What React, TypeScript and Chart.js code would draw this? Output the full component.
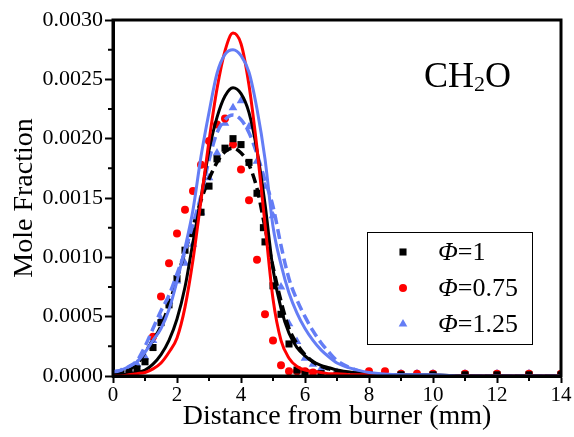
import React, { useEffect, useRef } from 'react';
import { Chart, registerables } from 'chart.js';
Chart.register(...registerables);

// ---- Experimental data (symbols) ----
const phi1X = [0, 0.25, 0.5, 0.75, 1.0, 1.25, 1.5, 1.75, 2.0, 2.25, 2.5, 2.75, 3.0, 3.25, 3.5, 3.75, 4.0, 4.25, 4.5, 4.7, 4.75, 5.0, 5.25, 5.5, 5.75, 6.0, 6.5, 7, 8, 9, 10, 11, 12, 13, 14];
const phi1Y = [0.00001, 0.00002, 0.00003, 0.00006, 0.00012, 0.00024, 0.00045, 0.0006, 0.00082, 0.00106, 0.0012, 0.00138, 0.0016, 0.00183, 0.00192, 0.002, 0.00195, 0.0018, 0.00154, 0.00125, 0.00113, 0.00076, 0.00052, 0.00027, 0.00005, 0.00003, 0.00002, 0.00001, 0.00001, 0.00001, 0.00001, 0.00001, 0.00001, 0.00001, 0.00001];

const phi075X = [1.25, 1.5, 1.75, 2.0, 2.25, 2.5, 2.75, 3.0, 3.25, 3.5, 3.75, 4.0, 4.25, 4.5, 4.75, 5.0, 5.25, 5.5, 5.75, 6.0, 6.25, 8, 8.5, 9, 9.5, 10, 11, 12, 13, 14];
const phi075Y = [0.00033, 0.00067, 0.00095, 0.0012, 0.0014, 0.00156, 0.00178, 0.00198, 0.00212, 0.00217, 0.00195, 0.00174, 0.00148, 0.00098, 0.00052, 0.0003, 0.00009, 0.00004, 0.00004, 0.00004, 0.00003, 0.00004, 0.00004, 0.00002, 0.00002, 0.00002, 0.00002, 0.00002, 0.00002, 0.00002];

const phi125X = [0, 0.25, 0.5, 0.75, 1.0, 1.25, 1.5, 1.75, 2.0, 2.25, 2.5, 2.75, 3.0, 3.25, 3.5, 3.75, 4.0, 4.25, 4.5, 4.75, 5.0, 5.25, 5.5, 5.75, 6.0, 6.25, 6.5, 7, 8, 8.5, 9, 9.5, 10, 11, 12, 13, 14];
const phi125Y = [0.00002, 0.00003, 0.00005, 0.0001, 0.00016, 0.0003, 0.00048, 0.00063, 0.0008, 0.00095, 0.00111, 0.00138, 0.00167, 0.00188, 0.00213, 0.00226, 0.00232, 0.0021, 0.00181, 0.0016, 0.00135, 0.00075, 0.00044, 0.00029, 0.00015, 0.0001, 0.00006, 0.00003, 0.00002, 0.00002, 0.00002, 0.00002, 0.00002, 0.00002, 0.00002, 0.00002, 0.00002];

// ---- Model curves ----
const curveX = [0, 0.25, 0.5, 0.75, 1.0, 1.25, 1.5, 1.75, 2.0, 2.25, 2.5, 2.75, 3.0, 3.25, 3.5, 3.75, 4.0, 4.25, 4.5, 4.75, 5.0, 5.25, 5.5, 5.75, 6.0, 6.25, 6.5, 6.75, 7.0, 7.5, 8, 9, 10, 11, 12, 13, 14];
const solid1Y = [0.00001, 0.00001, 0.00002, 0.00003, 0.00005, 0.0001, 0.00018, 0.0003, 0.00048, 0.00075, 0.00113, 0.0015, 0.0019, 0.00218, 0.00236, 0.00243, 0.00238, 0.00222, 0.0019, 0.00145, 0.0009, 0.00057, 0.00036, 0.00024, 0.00017, 0.00012, 0.00009, 0.00007, 0.00005, 0.00003, 0.00002, 0.00001, 0.00001, 0, 0, 0, 0];
const solid075Y = [0, 0, 0.00001, 0.00002, 0.00003, 0.00006, 0.00011, 0.0002, 0.00032, 0.00058, 0.00098, 0.00148, 0.00198, 0.00242, 0.00274, 0.00289, 0.0028, 0.00245, 0.00192, 0.00128, 0.00065, 0.0003, 0.00015, 0.00008, 0.00005, 0.00004, 0.00003, 0.00002, 0.00002, 0.00001, 0.00001, 0, 0, 0, 0, 0, 0];
const solid125Y = [0.00004, 0.00005, 0.00008, 0.00012, 0.0002, 0.0003, 0.0004, 0.00056, 0.0008, 0.00108, 0.0014, 0.00185, 0.00222, 0.00255, 0.00271, 0.00275, 0.0027, 0.00256, 0.00225, 0.00183, 0.00126, 0.00094, 0.0007, 0.00053, 0.0004, 0.0003, 0.00022, 0.00016, 0.00011, 0.00006, 0.00003, 0.00001, 0.00001, 0, 0, 0, 0];
const dashed1Y = [0.00002, 0.00004, 0.00006, 0.0001, 0.0002, 0.0003, 0.00042, 0.0006, 0.00082, 0.00105, 0.00126, 0.00148, 0.00166, 0.0018, 0.00189, 0.00192, 0.00188, 0.00178, 0.00158, 0.00125, 0.00092, 0.00063, 0.0004, 0.00027, 0.00018, 0.00012, 0.00008, 0.00006, 0.00004, 0.00002, 0.00001, 0, 0, 0, 0, 0, 0];
const dashed125Y = [0.00003, 0.00005, 0.00008, 0.00013, 0.00025, 0.0004, 0.00055, 0.00068, 0.00086, 0.00105, 0.00128, 0.00152, 0.00182, 0.00205, 0.00216, 0.0022, 0.00216, 0.00205, 0.00187, 0.00165, 0.00143, 0.0011, 0.00082, 0.00064, 0.0005, 0.00038, 0.00028, 0.0002, 0.00013, 0.00006, 0.00002, 0.00001, 0, 0, 0, 0, 0];

const yTicks = [0, 0.0005, 0.001, 0.0015, 0.002, 0.0025, 0.003];
const xTicks = [0, 2, 4, 6, 8, 10, 12, 14];
const yMinor = [0.00025, 0.00075, 0.00125, 0.00175, 0.00225, 0.00275];
const xMinor = [1, 3, 5, 7, 9, 11, 13];

const legendLabels = ['1', '0.75', '1.25'];
const speciesMain = 'CH';
const speciesSub = '2';
const speciesTail = 'O';

const BLACK = '#000000';
const RED = '#ff0000';
const BLUE = 'rgb(100,125,245)';
const SERIF = '"Liberation Serif", "Times New Roman", serif';

const zip = (xs: number[], ys: number[]) => xs.map((x, i) => ({ x, y: ys[i] }));

export default function App() {
  const ref = useRef<HTMLCanvasElement | null>(null);
  useEffect(() => {
    if (!ref.current) return;
    const decor = {
      id: 'decor',
      afterDraw(chart: any) {
        const { ctx, chartArea: a, scales } = chart;
        const xs = scales.x, ys = scales.y;
        ctx.save();
        // frame
        ctx.strokeStyle = '#000';
        ctx.lineWidth = 3;
        ctx.strokeRect(a.left, a.top, a.right - a.left, a.bottom - a.top);
        // minor ticks
        ctx.lineWidth = 2;
        ctx.beginPath();
        yMinor.forEach(v => {
          const p = ys.getPixelForValue(v);
          ctx.moveTo(a.left - 5, p); ctx.lineTo(a.left, p);
        });
        xMinor.forEach(v => {
          const p = xs.getPixelForValue(v);
          ctx.moveTo(p, a.bottom); ctx.lineTo(p, a.bottom + 5);
        });
        ctx.stroke();
        // species label
        ctx.fillStyle = '#000';
        ctx.textBaseline = 'alphabetic';
        ctx.textAlign = 'left';
        ctx.font = `36px ${SERIF}`;
        let tx = a.left + 311;
        const ty = a.top + 67;
        ctx.fillText(speciesMain, tx, ty);
        tx += ctx.measureText(speciesMain).width;
        ctx.font = `22px ${SERIF}`;
        ctx.fillText(speciesSub, tx, ty + 4);
        tx += ctx.measureText(speciesSub).width;
        ctx.font = `36px ${SERIF}`;
        ctx.fillText(speciesTail, tx, ty);
        // legend
        const lx = a.left + 254, ly = a.top + 212, lw = 165, lh = 112;
        ctx.lineWidth = 1;
        ctx.strokeStyle = '#000';
        ctx.strokeRect(lx + 0.5, ly + 0.5, lw, lh);
        const dsIdx = [5, 6, 7];
        dsIdx.forEach((di, i) => {
          const ds = chart.data.datasets[di];
          const cy = ly + 20 + i * 36;
          const cx = lx + 36;
          ctx.fillStyle = ds.backgroundColor;
          const r = ds.pointRadius;
          ctx.beginPath();
          if (ds.pointStyle === 'rect') {
            const s = r * Math.SQRT1_2;
            ctx.rect(cx - s, cy - s, 2 * s, 2 * s);
          } else if (ds.pointStyle === 'triangle') {
            ctx.moveTo(cx, cy - r);
            ctx.lineTo(cx + r * 0.866, cy + r / 2);
            ctx.lineTo(cx - r * 0.866, cy + r / 2);
            ctx.closePath();
          } else {
            ctx.arc(cx, cy, r, 0, Math.PI * 2);
          }
          ctx.fill();
          ctx.fillStyle = '#000';
          ctx.textBaseline = 'middle';
          let x0 = lx + 71;
          ctx.font = `italic 26px ${SERIF}`;
          ctx.fillText('Φ', x0, cy + 1);
          x0 += ctx.measureText('Φ').width;
          ctx.font = `26px ${SERIF}`;
          ctx.fillText('=' + legendLabels[i], x0, cy + 1);
        });
        ctx.restore();
      },
    };

    const lineDs = (label: string, ys: number[], color: string, dashed: boolean) => ({
      type: 'line' as const,
      label,
      data: zip(curveX, ys),
      borderColor: color,
      backgroundColor: color,
      borderWidth: dashed ? 3.5 : 3,
      borderDash: dashed ? [10, 5] : [],
      pointRadius: 0,
      cubicInterpolationMode: 'monotone' as const,
      fill: false,
    });
    const scatterDs = (label: string, xs: number[], ys: number[], color: string, style: string, r: number) => ({
      type: 'scatter' as const,
      label,
      data: zip(xs, ys),
      backgroundColor: color,
      borderColor: color,
      borderWidth: 0,
      pointStyle: style,
      pointRadius: r,
      showLine: false,
    });

    const chart = new Chart(ref.current, {
      type: 'scatter',
      data: {
        datasets: [
          lineDs('sim 1.25', solid125Y, BLUE, false),
          lineDs('sim 0.75', solid075Y, RED, false),
          lineDs('sim 1', solid1Y, BLACK, false),
          lineDs('fit 1.25', dashed125Y, BLUE, true),
          lineDs('fit 1', dashed1Y, BLACK, true),
          scatterDs('Φ=1', phi1X, phi1Y, BLACK, 'rect', 5),
          scatterDs('Φ=0.75', phi075X, phi075Y, RED, 'circle', 4),
          scatterDs('Φ=1.25', phi125X, phi125Y, BLUE, 'triangle', 5),
        ] as any,
      },
      options: {
        responsive: false,
        animation: false,
        layout: { padding: { left: 0, right: 13, top: 20, bottom: 0 } },
        plugins: { legend: { display: false }, tooltip: { enabled: false } },
        scales: {
          x: {
            type: 'linear',
            min: 0,
            max: 14,
            afterFit: (s: any) => { s.height = 61; },
            afterBuildTicks: (s: any) => { s.ticks = xTicks.map(v => ({ value: v })); },
            ticks: { color: '#000', font: { family: SERIF, size: 21 }, padding: 0, maxRotation: 0, callback: (v: any) => String(v) },
            grid: { drawOnChartArea: false, drawTicks: true, tickLength: 7, tickWidth: 2, tickColor: '#000' },
            border: { display: true, width: 3, color: '#000' },
            title: { display: true, text: 'Distance from burner (mm)', color: '#000', font: { family: SERIF, size: 28 }, padding: { top: 0, bottom: 4 } },
          },
          y: {
            type: 'linear',
            min: 0,
            max: 0.003,
            afterFit: (s: any) => { s.width = 113; },
            afterBuildTicks: (s: any) => { s.ticks = yTicks.map(v => ({ value: v })); },
            ticks: { color: '#000', font: { family: SERIF, size: 22 }, padding: 2, callback: (v: any) => Number(v).toFixed(4) },
            grid: { drawOnChartArea: false, drawTicks: true, tickLength: 8, tickWidth: 2, tickColor: '#000' },
            border: { display: true, width: 3, color: '#000' },
            title: { display: true, text: 'Mole Fraction', color: '#000', font: { family: SERIF, size: 28 }, padding: { top: 8, bottom: 0 } },
          },
        },
      },
      plugins: [decor],
    });
    return () => chart.destroy();
  }, []);

  return (
    <div style={{ position: 'fixed', left: 0, top: 0, width: 574, height: 437, background: '#fff' }}>
      <canvas ref={ref} width={574} height={437} style={{ width: 574, height: 437 }} />
    </div>
  );
}
